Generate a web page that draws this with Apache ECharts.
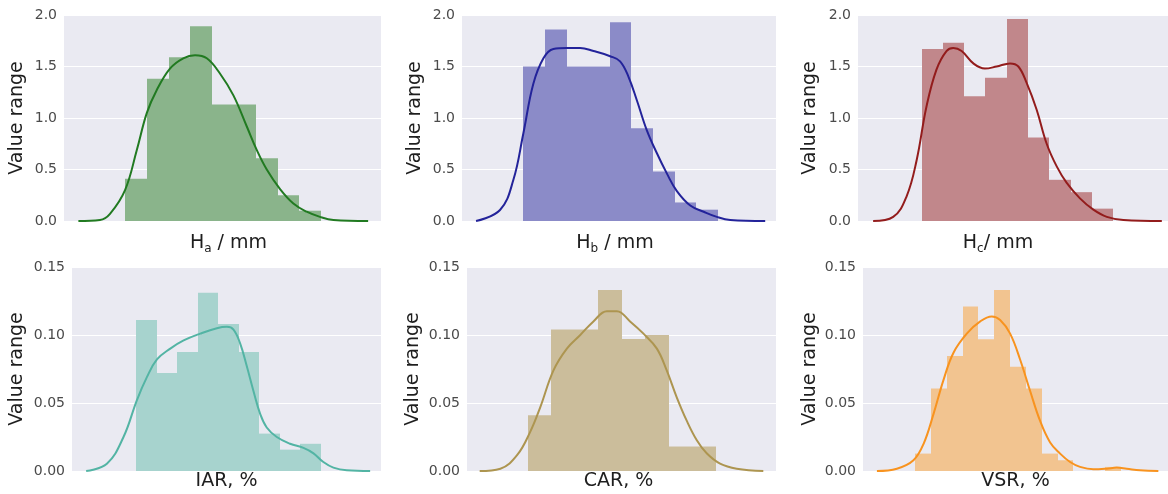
<!DOCTYPE html>
<html>
<head>
<meta charset="utf-8">
<script src="https://cdn.jsdelivr.net/npm/echarts@6/dist/echarts.min.js"></script>
<style>
  html, body { margin: 0; padding: 0; background: #ffffff; }
  #chart { width: 1168px; height: 494px; }
</style>
</head>
<body>
<div id="chart"></div>
<script>
// Histogram bin heights (density) – bins are unit-wide, starting at 0 on each x scale
const haBins  = [0.41, 1.38, 1.59, 1.89, 1.13, 1.13, 0.61, 0.25, 0.10];
const hbBins  = [1.50, 1.86, 1.50, 1.50, 1.93, 0.90, 0.48, 0.18, 0.11];
const hcBins  = [1.67, 1.73, 1.21, 1.39, 1.96, 0.81, 0.40, 0.28, 0.12];
const iarBins = [0.111, 0.072, 0.0875, 0.131, 0.108, 0.0875, 0.0275, 0.0157, 0.020];
const carBins = [0.041, 0.104, 0.104, 0.133, 0.097, 0.100, 0.018, 0.018];
const vsrBins = [0.0128, 0.0607, 0.0846, 0.121, 0.0969, 0.133, 0.0767, 0.0607, 0.0128, 0.0079, 0, 0, 0.003];

// Kernel density estimates (x in bin units, y density)
const haKdeX  = [-2.14, -1.15, -0.69, 0, 0.54, 1.0, 1.45, 2.06, 2.67, 3.21, 3.75, 4.36, 4.97, 5.58, 6.04, 6.50, 7.11, 7.72, 8.33, 8.94, 9.56, 11.15];
const haKdeY  = [0, 0.01, 0.07, 0.30, 0.69, 1.05, 1.27, 1.48, 1.58, 1.61, 1.58, 1.43, 1.22, 0.92, 0.69, 0.50, 0.31, 0.17, 0.09, 0.04, 0.01, 0];
const hbKdeX  = [-2.19, -1.08, -0.46, 0, 0.46, 0.93, 1.39, 2.01, 2.63, 3.25, 4.02, 4.48, 4.87, 5.26, 5.72, 6.18, 6.65, 7.11, 7.73, 8.35, 8.96, 9.58, 11.2];
const hbKdeY  = [0, 0.107, 0.40, 0.85, 1.33, 1.58, 1.67, 1.68, 1.68, 1.65, 1.60, 1.55, 1.40, 1.17, 0.88, 0.66, 0.46, 0.29, 0.15, 0.09, 0.04, 0.01, 0];
const hcKdeX  = [-2.27, -1.33, -0.70, -0.23, 0.23, 0.70, 1.17, 1.49, 1.88, 2.43, 2.97, 3.52, 4.15, 4.54, 4.93, 5.40, 5.87, 6.34, 6.81, 7.43, 8.06, 8.69, 9.47, 11.27];
const hcKdeY  = [0, 0.04, 0.24, 0.59, 1.11, 1.47, 1.65, 1.68, 1.65, 1.53, 1.48, 1.50, 1.53, 1.50, 1.34, 1.08, 0.75, 0.53, 0.37, 0.22, 0.11, 0.04, 0.01, 0];
const iarKdeX = [-2.44, -1.43, -0.62, 0.03, 0.52, 1.01, 1.66, 2.31, 3.12, 3.93, 4.42, 4.74, 5.06, 5.39, 5.71, 6.04, 6.36, 6.85, 7.50, 8.15, 8.64, 9.12, 9.61, 10.26, 11.40];
const iarKdeY = [0, 0.0054, 0.025, 0.052, 0.069, 0.082, 0.090, 0.096, 0.101, 0.105, 0.106, 0.104, 0.094, 0.077, 0.059, 0.042, 0.032, 0.025, 0.020, 0.017, 0.013, 0.0066, 0.0025, 0.0005, 0];
const carKdeX = [-2.04, -1.16, -0.45, 0.11, 0.54, 1.10, 1.67, 2.24, 2.80, 3.37, 3.80, 4.36, 4.93, 5.50, 5.92, 6.35, 6.77, 7.20, 7.62, 8.19, 8.90, 10.03];
const carKdeY = [0, 0.0017, 0.0116, 0.0288, 0.047, 0.074, 0.090, 0.100, 0.110, 0.1175, 0.1175, 0.110, 0.101, 0.090, 0.074, 0.054, 0.037, 0.0226, 0.013, 0.0054, 0.0017, 0];
const vsrKdeX = [-2.42, -1.16, -0.11, 0.53, 1.16, 1.79, 2.42, 3.26, 4.11, 4.84, 5.37, 6.0, 6.63, 7.26, 7.89, 8.53, 9.16, 9.79, 10.42, 11.26, 12.11, 12.74, 13.37, 14.21, 15.37];
const vsrKdeY = [0, 0.0017, 0.0079, 0.020, 0.042, 0.067, 0.087, 0.101, 0.110, 0.1136, 0.111, 0.101, 0.082, 0.059, 0.037, 0.021, 0.0128, 0.0066, 0.003, 0.0012, 0.0017, 0.0025, 0.0017, 0.0005, 0];

// x domain of each panel (bin units)
const haRange  = [-2.80, 11.74];
const hbRange  = [-2.84, 11.70];
const hcRange  = [-2.98, 11.56];
const iarRange = [-3.13, 11.93];
const carRange = [-2.58, 10.57];
const vsrRange = [-3.30, 15.98];

// y axes
const topYMax = 2.0, topYStep = 0.5;
const botYMax = 0.15, botYStep = 0.05;

// Axis titles
const haLabel  = '{m|H}{s|a}{m| / mm}';
const hbLabel  = '{m|H}{s|b}{m| / mm}';
const hcLabel  = '{m|H}{s|c}{m|/ mm}';
const iarLabel = 'IAR, %';
const carLabel = 'CAR, %';
const vsrLabel = 'VSR, %';
const yLabel   = 'Value range';

const FONT = 'DejaVu Sans';
const TEXT = '#1e1e1e';

const panels = [
  { bins: haBins,  kx: haKdeX,  ky: haKdeY,  range: haRange,  top: true,  name: haLabel,
    grid: { left: 64,  top: 15,  width: 317, height: 206 }, yGap: 37, xGap: 10, shift: 6,
    bar: '#8ab48b', line: '#217a21' },
  { bins: hbBins,  kx: hbKdeX,  ky: hbKdeY,  range: hbRange,  top: true,  name: hbLabel,
    grid: { left: 462, top: 15,  width: 314, height: 206 }, yGap: 37, xGap: 10, shift: -4,
    bar: '#8b8bc8', line: '#23239a' },
  { bins: hcBins,  kx: hcKdeX,  ky: hcKdeY,  range: hcRange,  top: true,  name: hcLabel,
    grid: { left: 858, top: 15,  width: 310, height: 206 }, yGap: 38, xGap: 10, shift: -15,
    bar: '#c1878b', line: '#931c1c' },
  { bins: iarBins, kx: iarKdeX, ky: iarKdeY, range: iarRange, top: false, name: iarLabel,
    grid: { left: 72,  top: 267, width: 309, height: 204 }, yGap: 45, xGap: 1, shift: 0,
    bar: '#a7d3ce', line: '#53b4a4' },
  { bins: carBins, kx: carKdeX, ky: carKdeY, range: carRange, top: false, name: carLabel,
    grid: { left: 467, top: 267, width: 309, height: 204 }, yGap: 44, xGap: 1, shift: -3,
    bar: '#cbbd9b', line: '#ad9550' },
  { bins: vsrBins, kx: vsrKdeX, ky: vsrKdeY, range: vsrRange, top: false, name: vsrLabel,
    grid: { left: 863, top: 267, width: 305, height: 204 }, yGap: 43, xGap: 1, shift: 0,
    bar: '#f2c490', line: '#f8931f' }
];

const grids = [], xAxes = [], yAxes = [], series = [];

panels.forEach((p, i) => {
  grids.push(Object.assign({ show: true, backgroundColor: '#eaeaf2', borderWidth: 0 }, p.grid));

  const pad = p.shift >= 0 ? [0, 0, 0, 2 * p.shift] : [0, -2 * p.shift, 0, 0];
  xAxes.push({
    type: 'value', gridIndex: i, min: p.range[0], max: p.range[1],
    axisLine: { show: false }, axisTick: { show: false }, axisLabel: { show: false },
    splitLine: { show: false },
    name: p.name, nameLocation: 'middle', nameGap: p.xGap,
    nameTextStyle: {
      fontFamily: FONT, fontSize: 19, color: TEXT, padding: pad,
      rich: {
        m: { fontFamily: FONT, fontSize: 19, color: TEXT, lineHeight: 24 },
        s: { fontFamily: FONT, fontSize: 12, color: TEXT, lineHeight: 12, verticalAlign: 'bottom' }
      }
    }
  });

  const yMax = p.top ? topYMax : botYMax;
  const yStep = p.top ? topYStep : botYStep;
  const digits = p.top ? 1 : 2;
  yAxes.push({
    type: 'value', gridIndex: i, min: 0, max: yMax, interval: yStep,
    axisLine: { show: false }, axisTick: { show: false },
    axisLabel: {
      fontFamily: FONT, fontSize: 14, color: '#4a4a4a', margin: 7,
      formatter: v => v.toFixed(digits)
    },
    splitLine: { show: true, lineStyle: { color: '#ffffff', width: 1 } },
    name: yLabel, nameLocation: 'middle', nameRotate: 90, nameGap: p.yGap,
    nameTextStyle: { fontFamily: FONT, fontSize: 19, color: TEXT }
  });

  // histogram bars drawn via the axes' own coordinate mapping; edges snapped
  // to whole pixels so neighbouring bins meet without seams
  series.push({
    type: 'custom', xAxisIndex: i, yAxisIndex: i, z: 2, silent: true,
    data: p.bins.map((h, k) => [k, k + 1, h]),
    encode: { x: [0, 1], y: 2 },
    renderItem: (params, api) => {
      const a = api.coord([api.value(0), api.value(2)]);
      const b = api.coord([api.value(1), 0]);
      const x0 = Math.round(a[0]), x1 = Math.round(b[0]);
      return {
        type: 'rect',
        shape: { x: x0, y: a[1], width: x1 - x0, height: b[1] - a[1] },
        style: { fill: p.bar }
      };
    }
  });

  // density curve
  series.push({
    type: 'line', xAxisIndex: i, yAxisIndex: i, z: 3, silent: true,
    data: p.kx.map((x, k) => [x, p.ky[k]]),
    smooth: 0.4, showSymbol: false, symbol: 'none',
    lineStyle: { color: p.line, width: 2 }
  });
});

const chart = echarts.init(document.getElementById('chart'));
chart.setOption({
  animation: false,
  backgroundColor: '#ffffff',
  grid: grids,
  xAxis: xAxes,
  yAxis: yAxes,
  series: series
});
</script>
</body>
</html>
